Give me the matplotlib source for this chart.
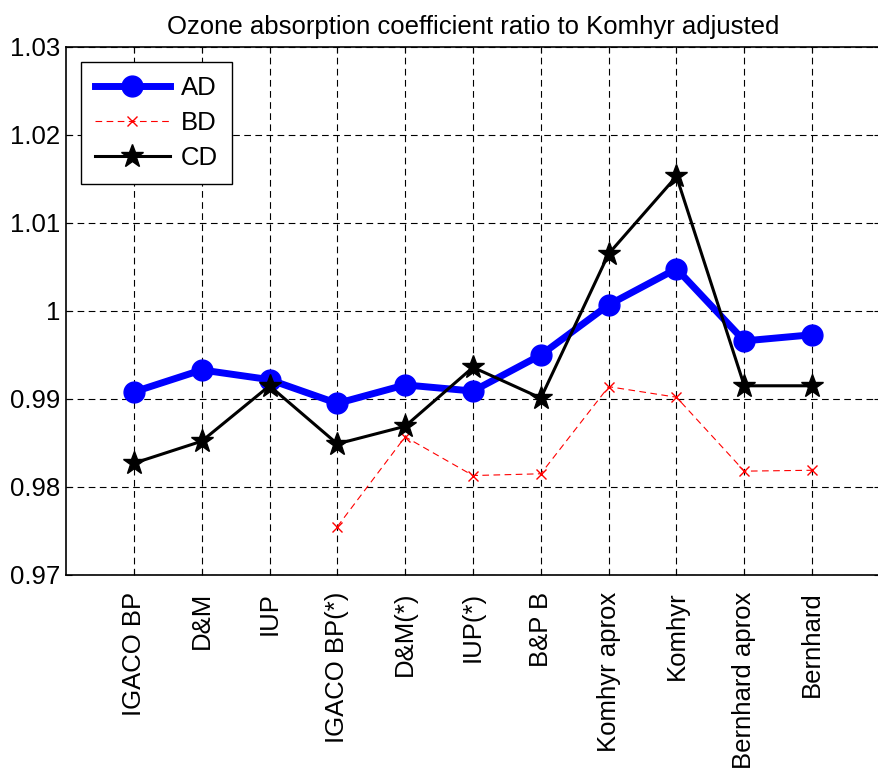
import matplotlib
matplotlib.use('Agg')
import matplotlib.pyplot as plt
import numpy as np

plt.rcParams['font.family'] = ['Liberation Sans', 'DejaVu Sans']

methods = ['IGACO BP', 'D&M', 'IUP', 'IGACO BP(*)', 'D&M(*)', 'IUP(*)',
           'B&P B', 'Komhyr aprox', 'Komhyr', 'Bernhard aprox', 'Bernhard']

ad = [0.9908, 0.9933, 0.9922, 0.9895, 0.9916, 0.9909,
      0.9950, 1.0007, 1.0048, 0.9966, 0.9973]
bd = [np.nan, np.nan, np.nan, 0.9755, 0.9857, 0.9813,
      0.9815, 0.9914, 0.9902, 0.9818, 0.9819]
cd = [0.9827, 0.9852, 0.9915, 0.9849, 0.9869, 0.9936,
      0.9901, 1.0065, 1.0153, 0.9915, 0.9915]

x = np.arange(1, len(methods) + 1)

fig = plt.figure(figsize=(8.79, 7.69), dpi=100)
ax = fig.add_axes([0.0751, 0.2523, 0.926, 0.6866])

ax.plot(x, ad, color='blue', lw=5, marker='o', ms=15, label='AD')
bd_line, = ax.plot(x, bd, color='red', lw=0.8, ls='--', marker='x',
                   ms=6.5, mew=1, label='BD')
bd_line.set_dashes((6, 4))
ax.plot(x, cd, color='black', lw=2.2, marker='*', ms=17, label='CD')

ax.set_xlim(0, 12)
ax.set_ylim(0.97, 1.03)
ax.set_xticks(x)
ax.set_xticklabels(methods, rotation=90, fontsize=18.5)
ax.set_yticks([0.97, 0.98, 0.99, 1.0, 1.01, 1.02, 1.03])
ax.set_yticklabels(['0.97', '0.98', '0.99', '1', '1.01', '1.02', '1.03'],
                   fontsize=18.5)
ax.tick_params(direction='in', length=4, top=True, right=True, width=0.8)
ax.tick_params(axis='x', pad=12)
ax.tick_params(axis='y', pad=4)

ax.grid(True, color='black', ls=(0, (6, 4)), lw=0.8)
for s in ax.spines.values():
    s.set_linewidth(1.2)

ax.set_title('Ozone absorption coefficient ratio to Komhyr adjusted',
             fontsize=18.5, pad=9)

leg = ax.legend(loc='upper left', bbox_to_anchor=(0.0184, 0.9716),
                borderaxespad=0, fontsize=18.5,
                fancybox=False, framealpha=1, edgecolor='black',
                handlelength=2.9, borderpad=0.55, labelspacing=0.42,
                handletextpad=0.45)
leg.get_frame().set_linewidth(1.0)

fig.savefig('out.png', dpi=100)
